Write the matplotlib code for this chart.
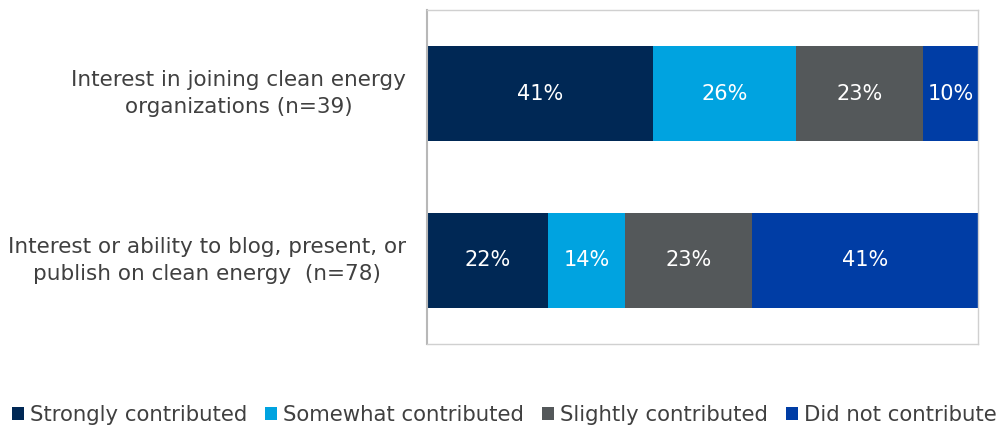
import matplotlib
matplotlib.use("Agg")
import matplotlib.pyplot as plt
from matplotlib import font_manager
from matplotlib.patches import Patch

# Data
categories = [
    "Interest in joining clean energy\norganizations (n=39)",
    "Interest or ability to blog, present, or\npublish on clean energy  (n=78)",
]
series_names = ["Strongly contributed", "Somewhat contributed",
                "Slightly contributed", "Did not contribute"]
strongly = [41, 22]
somewhat = [26, 14]
slightly = [23, 23]
did_not = [10, 41]

colors = ["#002855", "#00A3E0", "#54585A", "#003DA5"]
text_color = "#404040"

available = {f.name for f in font_manager.fontManager.ttflist}
family = "Liberation Sans Narrow" if "Liberation Sans Narrow" in available else "DejaVu Sans"
plt.rcParams["font.family"] = family

fig = plt.figure(figsize=(10.03, 4.30), dpi=100)
ax = fig.add_axes([427 / 1003, 1 - 344 / 430, (978 - 427) / 1003, (344 - 10) / 430])

ypos = [0, 1]
left = [0, 0]
for name, vals, col in zip(series_names, [strongly, somewhat, slightly, did_not], colors):
    ax.barh(ypos, vals, left=left, height=0.57, color=col, label=name)
    for y, v, l in zip(ypos, vals, left):
        ax.text(l + v / 2, y, f"{v}%", ha="center", va="center",
                color="white", fontsize=15)
    left = [a + b for a, b in zip(left, vals)]

ax.set_xlim(0, 100)
ax.set_ylim(1.5, -0.5)
ax.set_xticks([])
ax.set_yticks(ypos)
ax.set_yticklabels(categories, fontsize=15.5, color=text_color)
for lab in ax.get_yticklabels():
    lab.set_multialignment("center")
    lab.set_linespacing(1.45)
    lab.set_verticalalignment("center")
ax.tick_params(axis="y", length=0, pad=15)
for side in ["top", "right", "bottom"]:
    ax.spines[side].set_color("#d0d0d0")
    ax.spines[side].set_linewidth(1.0)
ax.spines["left"].set_color("#b8b8b8")
ax.spines["left"].set_linewidth(1.5)

handles = [Patch(facecolor=c, edgecolor="none") for c in colors]
fig.legend(handles, series_names, loc="center", bbox_to_anchor=(0.503, 1 - 415 / 430),
           ncol=4, frameon=False, fontsize=15.3, handlelength=0.55, handleheight=0.55,
           handletextpad=0.3, columnspacing=0.85, labelcolor=text_color)

fig.savefig("out.png", dpi=100)
